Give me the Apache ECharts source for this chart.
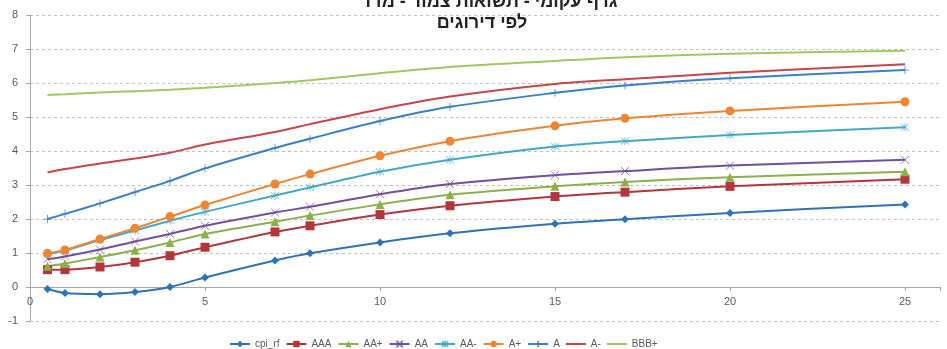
<!DOCTYPE html>
<html>
<head>
<meta charset="utf-8">
<script src="https://cdn.jsdelivr.net/npm/echarts@6/dist/echarts.min.js"></script>
<style>html,body{margin:0;padding:0;background:#fff}#c{width:947px;height:349px}</style>
</head>
<body>
<div id="c"></div>
<script>
const titleLine1 = "גרף עקומי - תשואות צמוד - מדד";
const titleLine2 = "לפי דירוגים";
const years = [0.5, 1, 2, 3, 4, 5, 7, 8, 10, 12, 15, 17, 20, 25];
const seriesNames = ["cpi_rf", "AAA", "AA+", "AA", "AA-", "A+", "A", "A-", "BBB+"];
const cpi_rf = [-0.06, -0.18, -0.21, -0.15, 0.00, 0.28, 0.78, 0.99, 1.31, 1.58, 1.86, 1.99, 2.18, 2.43];
const AAA    = [0.51, 0.51, 0.59, 0.73, 0.92, 1.17, 1.62, 1.80, 2.13, 2.39, 2.66, 2.79, 2.96, 3.17];
const AAplus = [0.61, 0.69, 0.88, 1.08, 1.31, 1.56, 1.92, 2.10, 2.43, 2.71, 2.96, 3.09, 3.23, 3.39];
const AA     = [0.82, 0.90, 1.10, 1.34, 1.56, 1.80, 2.19, 2.36, 2.73, 3.03, 3.29, 3.41, 3.57, 3.74];
const AAminus= [0.97, 1.07, 1.38, 1.66, 1.95, 2.21, 2.69, 2.93, 3.39, 3.74, 4.13, 4.29, 4.47, 4.70];
const Aplus  = [0.99, 1.09, 1.41, 1.73, 2.07, 2.41, 3.03, 3.32, 3.86, 4.29, 4.74, 4.96, 5.18, 5.45];
const A      = [2.00, 2.15, 2.46, 2.79, 3.12, 3.49, 4.09, 4.36, 4.88, 5.30, 5.71, 5.93, 6.14, 6.38];
const Aminus = [3.37, 3.47, 3.63, 3.78, 3.95, 4.19, 4.56, 4.79, 5.23, 5.60, 5.97, 6.11, 6.30, 6.55];
const BBBplus= [5.65, 5.67, 5.72, 5.76, 5.80, 5.86, 6.00, 6.08, 6.29, 6.47, 6.65, 6.76, 6.86, 6.95];
const xTicks = [0, 5, 10, 15, 20, 25];
const yTicks = [-1, 0, 1, 2, 3, 4, 5, 6, 7, 8];

const values = [cpi_rf, AAA, AAplus, AA, AAminus, Aplus, A, Aminus, BBBplus];
const colors = ['#2E72B8', '#B3363C', '#8AB04A', '#6F509E', '#43A7C6', '#EE8533', '#3A7FCB', '#C8434A', '#A2C760'];
const X = 'path://M0,0L10,10M10,0L0,10';
const STAR = 'path://M0,0L10,10M10,0L0,10M5,-1L5,11';
const PLUS = 'path://M5,0L5,10M0,5L10,5';
const LINEICON = 'path://M0,0L20,0L20,2L0,2Z';
const symbols = [
  {symbol: 'diamond', size: 8, stroke: false},
  {symbol: 'rect', size: 9, stroke: false},
  {symbol: 'triangle', size: 9, stroke: false},
  {symbol: X, size: 8, stroke: true},
  {symbol: STAR, size: 8, stroke: true},
  {symbol: 'circle', size: 9, stroke: false},
  {symbol: PLUS, size: 8, stroke: true},
  {symbol: 'none', size: 0, stroke: false},
  {symbol: 'none', size: 0, stroke: false}
];

const series = seriesNames.map((name, i) => {
  const s = symbols[i];
  return {
    name: name,
    type: 'line',
    smooth: 0.3,
    data: years.map((x, j) => [x, values[i][j]]),
    symbol: s.symbol,
    symbolSize: s.size,
    showSymbol: s.symbol !== 'none',
    lineStyle: {color: colors[i], width: 2},
    itemStyle: s.stroke ? {color: colors[i], borderColor: colors[i], borderWidth: 1, opacity: 0.75} : {color: colors[i], borderWidth: 0},
    emphasis: {disabled: true}
  };
});

const legendData = seriesNames.map((name, i) =>
  symbols[i].symbol === 'none' ? {name: name, icon: LINEICON, itemStyle: {color: colors[i]}} : {name: name});

const chart = echarts.init(document.getElementById('c'), null, {renderer: 'canvas'});
chart.setOption({
  animation: false,
  backgroundColor: '#fff',
  title: [
    {text: titleLine1, left: 484, top: -12, textAlign: 'center', textStyle: {fontFamily: 'Liberation Sans, DejaVu Sans, Arial', fontSize: 18, fontWeight: 'bold', color: '#222'}},
    {text: titleLine2, left: 477, top: 9, textAlign: 'center', textStyle: {fontFamily: 'Liberation Sans, DejaVu Sans, Arial', fontSize: 18, fontWeight: 'bold', color: '#222'}}
  ],
  grid: {left: 30, right: 7, top: 15, bottom: 28, containLabel: false},
  legend: {
    data: legendData,
    left: 224, top: 332,
    itemWidth: 20, itemHeight: 8, itemGap: 6,
    textStyle: {fontFamily: 'Liberation Sans, Arial', fontSize: 10, lineHeight: 14, color: '#595959'}
  },
  xAxis: {
    type: 'value', min: 0, max: 26, interval: 5,
    offset: -34,
    axisLine: {onZero: false, lineStyle: {color: '#A6A6A6', width: 1}},
    axisTick: {show: true, length: 4, lineStyle: {color: '#A6A6A6'}},
    axisLabel: {color: '#595959', fontFamily: 'Liberation Sans, Arial', fontSize: 11, margin: 9,
      formatter: v => xTicks.includes(v) ? String(v) : ''},
    splitLine: {show: false}
  },
  yAxis: {
    type: 'value', min: -1, max: 8, interval: 1,
    axisLine: {show: true, lineStyle: {color: '#A6A6A6', width: 1}},
    axisTick: {show: true, length: 4, lineStyle: {color: '#A6A6A6'}},
    axisLabel: {color: '#595959', fontFamily: 'Liberation Sans, Arial', fontSize: 11, margin: 12,
      formatter: v => yTicks.includes(v) ? String(v) : ''},
    splitLine: {show: true, lineStyle: {color: '#BFBFBF', type: [3, 3], width: 1}}
  },
  series: series
});
</script>
</body>
</html>
